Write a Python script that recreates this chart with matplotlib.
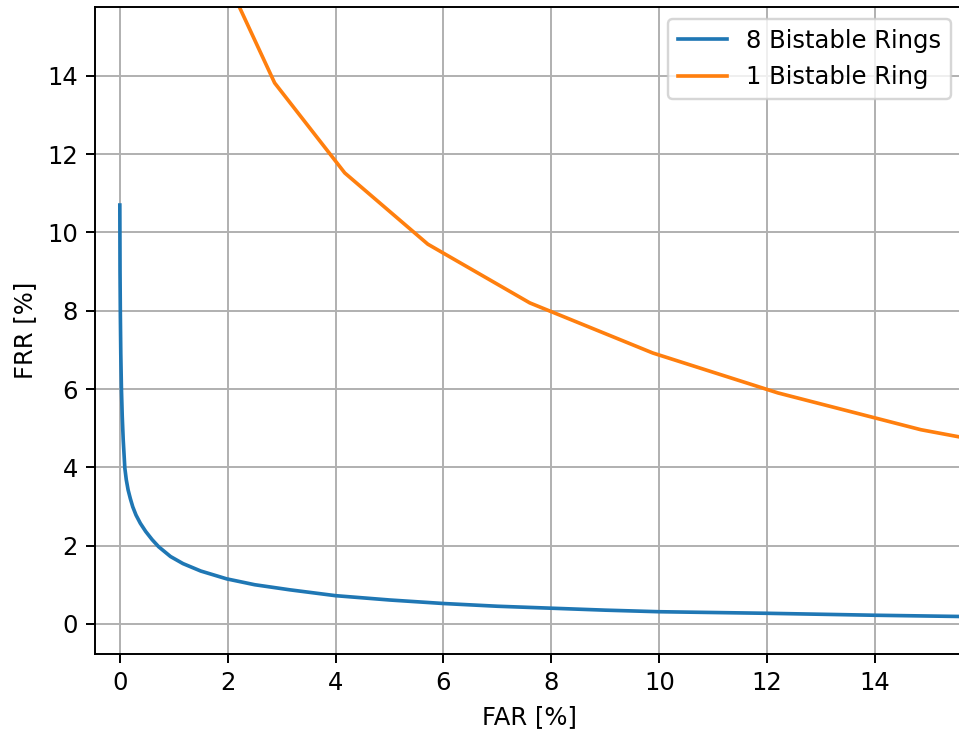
import matplotlib
matplotlib.use("Agg")
import matplotlib.pyplot as plt

# 8 bistable rings (smooth curve)
far_8 = [0.0, 0.004, 0.01, 0.018, 0.03, 0.045, 0.063, 0.093, 0.12, 0.154, 0.195,
         0.24, 0.3, 0.38, 0.48, 0.6, 0.72, 0.94, 1.17, 1.5, 1.98, 2.5, 3.15,
         4.0, 5.0, 6.0, 7.0, 8.0, 9.0, 10.0, 11.0, 12.0, 13.0, 14.0, 15.0, 16.0]
frr_8 = [10.7, 9.0, 7.9, 6.9, 6.0, 5.3, 4.7, 3.98, 3.68, 3.42, 3.2,
         2.99, 2.78, 2.57, 2.36, 2.15, 1.97, 1.72, 1.54, 1.35, 1.15, 1.0, 0.87,
         0.72, 0.61, 0.52, 0.45, 0.40, 0.35, 0.31, 0.29, 0.27, 0.245, 0.22, 0.2, 0.18]

# 1 bistable ring (piecewise linear)
far_1 = [1.95, 2.87, 4.17, 5.71, 7.60, 9.88, 12.2, 14.85, 17.8]
frr_1 = [16.55, 13.82, 11.52, 9.70, 8.20, 6.92, 5.90, 4.96, 4.2]

fig = plt.figure(figsize=(959 / 175, 732 / 175), dpi=175)
ax = fig.add_axes([95 / 959, 78 / 732, 868 / 959, 647 / 732])

ax.plot(far_8, frr_8, label="8 Bistable Rings")
ax.plot(far_1, frr_1, label="1 Bistable Ring")

ax.set_xlim(-0.46, 15.63)
ax.set_ylim(-0.77, 15.76)
ax.set_xticks(range(0, 16, 2))
ax.set_yticks(range(0, 16, 2))
ax.set_xlabel("FAR [%]")
ax.set_ylabel("FRR [%]")
ax.grid(True)
ax.legend(loc="upper right")

fig.savefig("out.png", dpi=175)
